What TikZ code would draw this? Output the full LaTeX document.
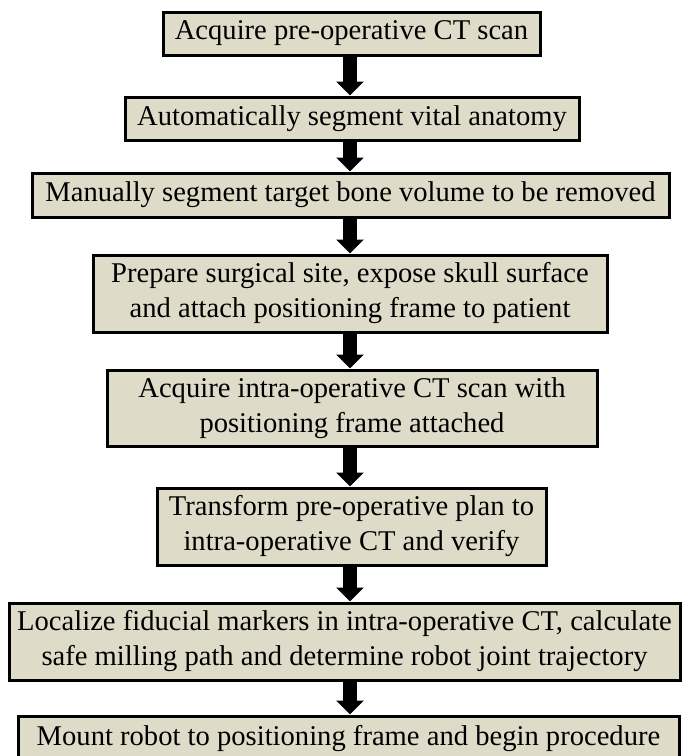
\documentclass[tikz,border=0pt]{standalone}
\usepackage{fontspec}
\setmainfont{Liberation Serif}
\usetikzlibrary{arrows.meta}
\definecolor{boxfill}{RGB}{222,220,201}
\tikzset{
  flowbox/.style={draw=black, line width=3pt, fill=boxfill, inner sep=0pt, align=center,
    font=\fontsize{28.6}{35}\selectfont},
  flowarrow/.style={line width=14pt, -{Triangle[width=27pt,length=14pt]}}
}
\begin{document}
\begin{tikzpicture}[x=1pt,y=-1pt]
\useasboundingbox (0,0) rectangle (682,756);
\coordinate (ax) at (350,0);
\node[flowbox, minimum width=377pt, minimum height=43pt] (b1) at (351.5,33.5) {Acquire pre-operative CT scan};
\node[flowbox, minimum width=454pt, minimum height=43pt] (b2) at (352,118.5) {Automatically segment vital anatomy};
\node[flowbox, minimum width=637pt, minimum height=44pt] (b3) at (350.5,195) {Manually segment target bone volume to be removed};
\node[flowbox, minimum width=514pt, minimum height=77pt] (b4) at (350,293.5) {Prepare surgical site, expose skull surface\\and attach positioning frame to patient};
\node[flowbox, minimum width=490pt, minimum height=76pt] (b5) at (352,408) {Acquire intra-operative CT scan with\\positioning frame attached};
\node[flowbox, minimum width=389pt, minimum height=77pt] (b6) at (351.5,526.5) {Transform pre-operative plan to\\intra-operative CT and verify};
\node[flowbox, minimum width=671pt, minimum height=77pt] (b7) at (344.5,641.5) {Localize fiducial markers in intra-operative CT, calculate\\safe milling path and determine robot joint trajectory};
\node[flowbox, minimum width=661pt, minimum height=46pt] (b8) at (348.5,739) {Mount robot to positioning frame and begin procedure};
\foreach \a/\b in {b1/b2,b2/b3,b3/b4,b4/b5,b5/b6,b6/b7,b7/b8}
  \draw[flowarrow] (\a.south -| ax) -- (\b.north -| ax);
\end{tikzpicture}
\end{document}
